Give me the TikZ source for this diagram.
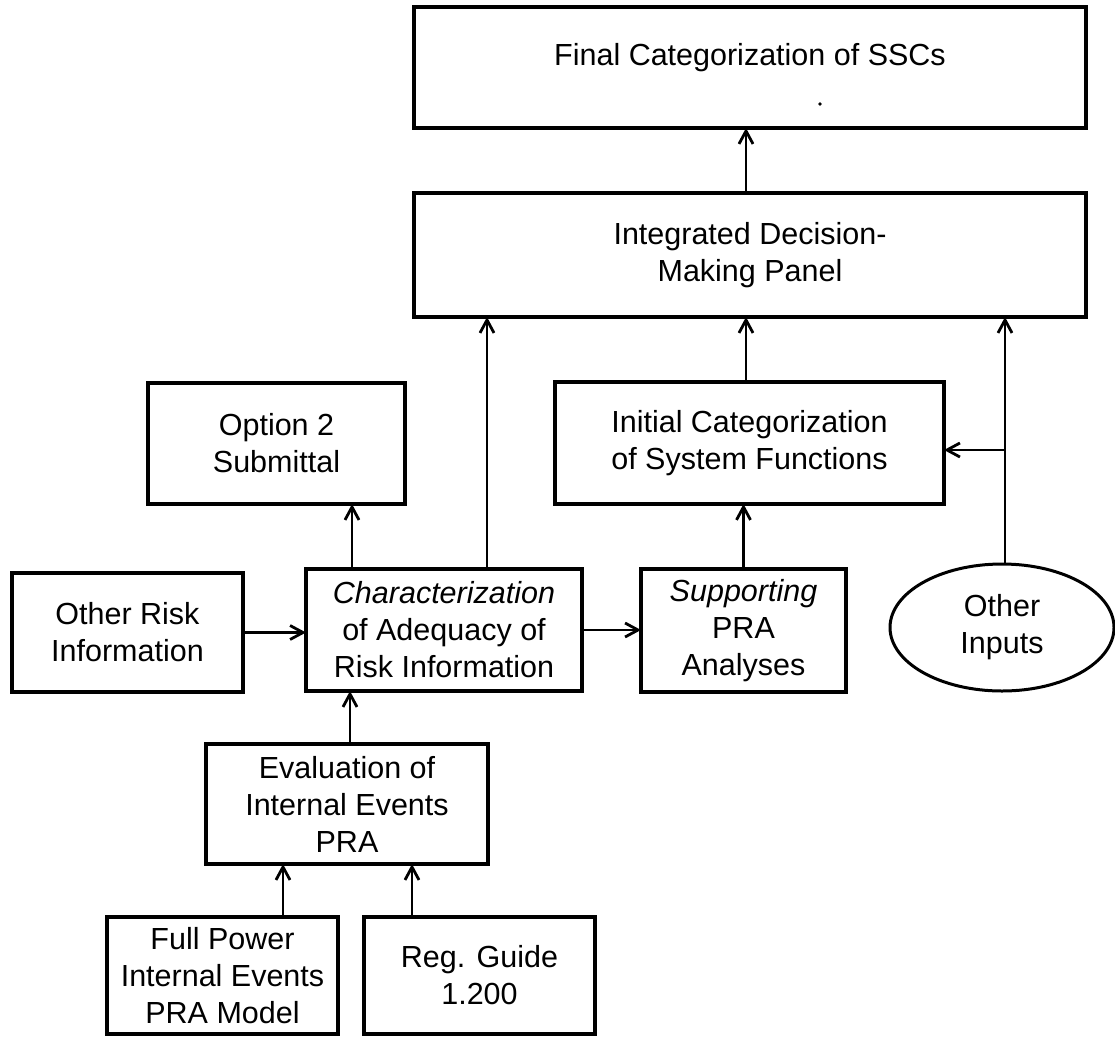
\documentclass[tikz,border=0pt]{standalone}
\usepackage{fontspec}
\setmainfont{Liberation Sans}
\usetikzlibrary{arrows.meta,shapes.geometric}
\begin{document}
\begin{tikzpicture}[x=1pt,y=-1pt,
  box/.style={draw,line width=3.2pt,inner sep=0pt,outer sep=0pt,align=center,
    font=\fontsize{30.5}{37}\selectfont},
  oval/.style={draw,ellipse,line width=3pt,inner sep=0pt,outer sep=0pt,align=center,
    font=\fontsize{30.5}{37}\selectfont},
  arr/.style={line width=2.8pt,-{Straight Barb[length=13pt,width=14pt,line width=2.8pt]}}]
\useasboundingbox (0,0) rectangle (1115,1036);

% boxes
\node[box,minimum width=672pt,minimum height=121pt] (final) at (750,67.5) {};
\node[font=\fontsize{30.5}{37}\selectfont] (finaltext) at ([yshift=10pt]final.center) {Final Categorization of SSCs};
\node[box,minimum width=672pt,minimum height=124pt] (integ) at (750,255) {Integrated Decision-\\Making Panel};
\node[box,minimum width=257pt,minimum height=121pt] (opt) at (276.5,443.5) {Option 2\\Submittal};
\node[box,minimum width=389pt,minimum height=122pt] (init) at (749.5,443) {Initial Categorization\\of System Functions};
\node[box,minimum width=231pt,minimum height=119pt] (orisk) at (127.5,632.5) {Other Risk\\Information};
\node[box,minimum width=276pt,minimum height=122pt] (char) at (444,630) {\itshape Characterization\\of Adequacy of\\Risk Information};
\node[box,minimum width=205pt,minimum height=123pt] (supp) at (743.5,630.5) {\itshape Supporting\\PRA\\Analyses};
\node[oval,minimum width=224pt,minimum height=127pt] (oin) at (1002,627.5) {Other\\Inputs};
\node[box,minimum width=282pt,minimum height=120pt] (eval) at (347,804) {Evaluation of\\Internal Events\\PRA};
\node[box,minimum width=231pt,minimum height=117pt] (fp) at (222.5,975.5) {Full Power\\Internal Events\\PRA Model};
\node[box,minimum width=231pt,minimum height=117pt] (reg) at (479.5,975.5) {Reg. Guide\\1.200};

% stray mark inside the top box
\fill (820,104) circle (1.8pt);

% connector columns
\coordinate (cmid) at (746,0);
\coordinate (cchar) at (487,0);
\coordinate (cin) at (1005,0);
\coordinate (copt) at (352,0);
\coordinate (cev) at (350,0);
\coordinate (cfp) at (283,0);
\coordinate (creg) at (412,0);
\coordinate (split) at (1005,450);

% connectors
\draw[arr] (integ.north -| cmid) -- (final.south -| cmid);
\draw[arr] (char.north -| cchar) -- (integ.south -| cchar);
\draw[arr] (init.north -| cmid) -- (integ.south -| cmid);
\draw[arr] (oin.north -| cin) -- (integ.south -| cin);
\draw[arr] (split) -- (split -| init.east);
\draw[arr] (char.north -| copt) -- (opt.south -| copt);
\draw[arr] (orisk.east) -- (orisk.east -| char.west);
\draw[arr] (char.east) -- (char.east -| supp.west);
\draw[arr] (supp.north) -- (supp.north |- init.south);
\draw[arr] (eval.north -| cev) -- (char.south -| cev);
\draw[arr] (fp.north -| cfp) -- (eval.south -| cfp);
\draw[arr] (reg.north -| creg) -- (eval.south -| creg);
\end{tikzpicture}
\end{document}
